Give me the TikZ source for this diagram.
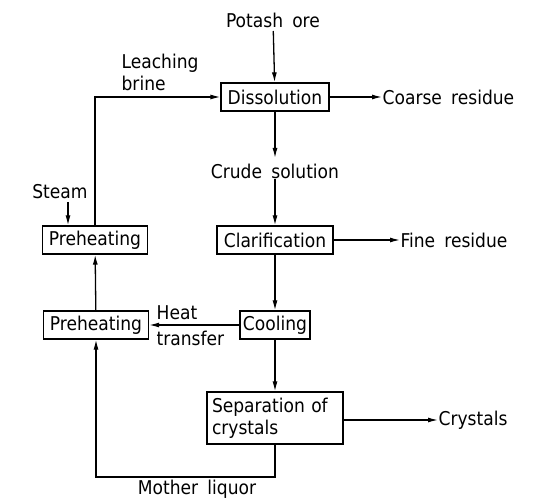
\documentclass[tikz,border=0pt]{standalone}
\usepackage{fontspec}
\setmainfont[WordSpace=1.7]{DejaVu Sans Condensed}
\usetikzlibrary{arrows.meta}
\begin{document}
\begin{tikzpicture}[x=1pt,y=-1pt,
  >={Latex[length=10pt,width=5pt]},
  line width=1.3pt,
  every node/.style={font=\fontsize{19}{22}\selectfont, inner sep=0pt},
  proc/.style={draw, minimum height=28pt, anchor=center}]
\fill[white] (0,0) rectangle (539,500);
\useasboundingbox (0,0) rectangle (539,500);
% process boxes
\node[proc, minimum width=108pt] (diss) at (275,97) {Dissolution};
\node[proc, minimum width=116pt] (clar) at (275,240) {Clarification};
\node[proc, minimum width=70pt] (cool) at (275,325) {Cooling};
\node[proc, minimum width=136pt, minimum height=52pt, align=left, text width=126pt] (sep) at (275,418) {Separation of\\crystals};
\node[proc, minimum width=105pt] (pre1) at (95,240) {Preheating};
\node[proc, minimum width=105pt] (pre2) at (96,325) {Preheating};
% labels
\node (ore) at (273,20) {Potash ore};
\node[anchor=west] (coarse) at (382,97) {Coarse residue};
\node (crude) at (275,171) {Crude solution};
\node[anchor=west] (fine) at (400,240) {Fine residue};
\node[anchor=west] (cry) at (438,420) {Crystals};
\node (mother) at (197,489) {Mother liquor};
\node[anchor=west] (heat) at (156,313) {Heat};
\node[anchor=west] (transfer) at (156,338) {transfer};
\node[anchor=west, align=left] (leach) at (121,72) {Leaching\\brine};
\node (steam) at (60,192) {Steam};
\coordinate (st) at (68,202);
\coordinate (ml) at (96,477);
% connectors
\draw[->, shorten <=3pt] (ore) -- (diss);
\draw[->] (diss) -- (coarse);
\draw[->, shorten >=5pt] (diss) -- (crude);
\draw[->] (crude) -- (clar);
\draw[->] (clar) -- (fine);
\draw[->] (clar) -- (cool);
\draw[->] (cool) -- (sep);
\draw[->] (sep.east |- cry) -- (cry.west);
\draw[->] (cool.west) -- (cool.west -| pre2.east);
\draw[->] (sep.south) |- (ml) -| (pre2.south);
\draw[->] (pre2) -- (pre1);
\draw[->] (pre1.north) |- (diss.west);
\draw[->] (st) -- (st |- pre1.north);
\end{tikzpicture}
\end{document}
